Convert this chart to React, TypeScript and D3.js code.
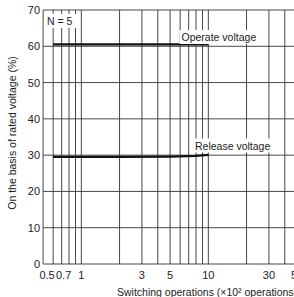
import { useEffect, useRef } from "react";
import * as d3 from "d3";

// operate voltage curve (x in 10^2 operations, y in %)
const operateX = [0.6, 1, 2, 5, 10];
const operateY = [60.5, 60.5, 60.5, 60.5, 60.5];
// release voltage curve
const releaseX = [0.6, 1, 2, 5, 8, 10];
const releaseY = [29.5, 29.5, 29.5, 29.6, 29.8, 30.1];

const yTicks = [0, 10, 20, 30, 40, 50, 60, 70];
const xTicks = [0.5, 0.7, 1, 3, 5, 10, 30, 50];
const xGrid = [
  0.5, 0.6, 0.7, 0.8, 0.9, 1, 2, 3, 4, 5, 6, 7, 8, 9, 10, 20, 30, 40, 50, 60, 70, 80, 90, 100,
];

export default function App() {
  const svgRef = useRef(null);

  useEffect(() => {
    const width = 294;
    const height = 297;
    const svg = d3.select(svgRef.current);
    svg.selectAll("*").remove();
    svg.attr("width", width).attr("height", height);

    const font = "'Liberation Sans', Arial, sans-serif";

    const x = d3.scaleLog().domain([0.5, 100]).range([43.1, 43.1 + 127 * Math.log10(200)]);
    const y = d3.scaleLinear().domain([0, 70]).range([264, 10]);

    svg.append("rect").attr("width", width).attr("height", height).attr("fill", "#fff");

    const grid = svg.append("g").attr("stroke", "#333").attr("stroke-width", 0.9);
    grid.selectAll("line.v")
      .data(xGrid)
      .join("line")
      .attr("class", "v")
      .attr("x1", (d) => x(d))
      .attr("x2", (d) => x(d))
      .attr("y1", y(0))
      .attr("y2", y(70));
    grid.selectAll("line.h")
      .data(yTicks)
      .join("line")
      .attr("class", "h")
      .attr("x1", x(0.5))
      .attr("x2", x(100))
      .attr("y1", (d) => y(d))
      .attr("y2", (d) => y(d));

    // y tick labels
    svg.append("g")
      .selectAll("text")
      .data(yTicks)
      .join("text")
      .attr("x", x(0.5) - 3)
      .attr("y", (d) => y(d) + 4)
      .attr("text-anchor", "end")
      .attr("font-family", font)
      .attr("font-size", 11)
      .attr("fill", "#222")
      .text((d) => d);

    // x tick labels (first two nudged right like the original)
    const nudge = (d: number) => (d === 0.5 ? 4 : d === 0.7 ? 2 : 0);
    svg.append("g")
      .selectAll("text")
      .data(xTicks)
      .join("text")
      .attr("x", (d) => x(d) + nudge(d))
      .attr("y", 279)
      .attr("text-anchor", "middle")
      .attr("font-family", font)
      .attr("font-size", 11)
      .attr("fill", "#222")
      .text((d) => d);

    const lines = [
      { xs: operateX, ys: operateY },
      { xs: releaseX, ys: releaseY },
    ];
    lines.forEach((s) => {
      const pts = s.xs.map((v, i) => [x(v), y(s.ys[i])] as [number, number]);
      svg.append("path")
        .attr("d", d3.line()(pts))
        .attr("fill", "none")
        .attr("stroke", "#111")
        .attr("stroke-width", 2.2);
    });

    // labels with white backgrounds
    const labels = [
      { text: "N = 5", x: 47, y: 25, w: 30 },
      { text: "Operate voltage", x: 181.5, y: 41, w: 79 },
      { text: "Release voltage", x: 195, y: 149.5, w: 76 },
    ];
    labels.forEach((l) => {
      svg.append("rect")
        .attr("x", l.x - 2)
        .attr("y", l.y - 11)
        .attr("width", l.w + 2)
        .attr("height", 14)
        .attr("fill", "#fff");
      svg.append("text")
        .attr("x", l.x)
        .attr("y", l.y)
        .attr("font-family", font)
        .attr("font-size", 10.5)
        .attr("fill", "#222")
        .text(l.text);
    });

    // axis titles
    svg.append("text")
      .attr("transform", `translate(16,133) rotate(-90)`)
      .attr("text-anchor", "middle")
      .attr("font-family", font)
      .attr("font-size", 10.5)
      .attr("fill", "#222")
      .text("On the basis of rated voltage (%)");

    svg.append("text")
      .attr("x", 117)
      .attr("y", 296)
      .attr("font-family", font)
      .attr("font-size", 10.5)
      .attr("fill", "#222")
      .text("Switching operations (×10² operations)");
  }, []);

  return <svg ref={svgRef} style={{ position: "absolute", left: 0, top: 0 }}></svg>;
}
